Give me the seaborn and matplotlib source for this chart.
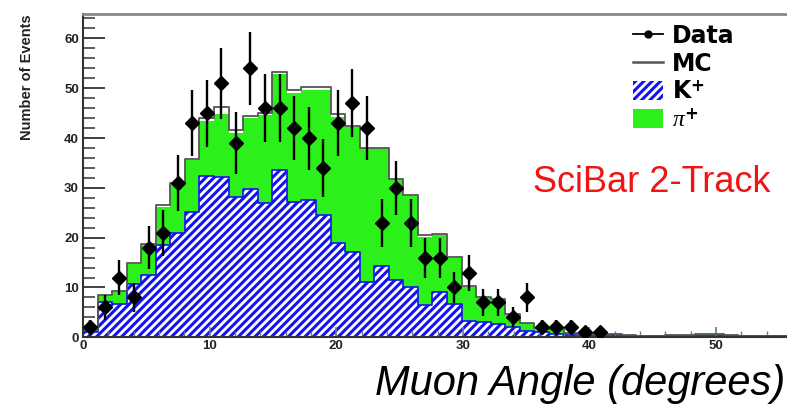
import numpy as np
import pandas as pd
import matplotlib
matplotlib.use("Agg")
import matplotlib.pyplot as plt
import seaborn as sns
from matplotlib.lines import Line2D
from matplotlib.patches import Patch

# --- data (bins of 1.15 degrees starting at 0) ---
bin_width = 1.15

kplus = [1.0, 7.0, 6.7, 10.7, 12.5, 18.5, 21.0, 25.2, 32.3, 32.2,
         28.2, 29.8, 27.0, 33.5, 27.2, 27.6, 24.6, 19.0, 17.2, 11.2,
         14.3, 11.6, 10.1, 6.5, 9.0, 6.7, 3.3, 3.0, 2.6, 2.1,
         1.2, 1.0, 0.6, 0.5, 0.4, 0.3, 0.4, 0.3, 0.3, 0.3,
         0.3, 0.2, 0.3, 0.3, 0.2, 0.2, 0.3, 0.2, 0.2]

piplus = [0.5, 1.3, 2.4, 4.1, 6.1, 7.7, 9.8, 10.3, 11.2, 12.7,
          12.8, 14.2, 17.6, 19.3, 21.8, 22.0, 25.0, 25.3, 25.0, 26.7,
          23.6, 19.9, 18.2, 13.7, 11.5, 9.3, 6.7, 4.8, 4.9, 2.4,
          1.6, 0.8, 0.9, 0.3, 0.2, 0.2, 0.2, 0.1, 0.0, 0.0,
          0.1, 0.2, 0.3, 0.3, 0.2, 0.0, 0.0, 0.1, 0.1]

mc_total = [1.5, 8.4, 9.2, 15.0, 18.8, 26.5, 31.0, 35.8, 44.0, 46.2,
            41.7, 44.4, 45.0, 53.2, 49.7, 50.3, 50.2, 44.8, 42.5, 38.1,
            38.1, 31.7, 28.5, 20.6, 20.8, 16.2, 10.2, 8.0, 7.6, 4.6,
            2.9, 1.9, 1.6, 0.9, 0.7, 0.5, 0.6, 0.4, 0.3, 0.3,
            0.4, 0.4, 0.6, 0.6, 0.4, 0.2, 0.3, 0.3, 0.3]

data_counts = [2, 6, 12, 8, 18, 21, 31, 43, 45, 51,
               39, 54, 46, 46, 42, 40, 34, 43, 47, 42,
               23, 30, 23, 16, 16, 10, 13, 7, 7, 4,
               8, 2, 2, 2, 1, 1]

y_ticks = [0, 10, 20, 30, 40, 50, 60]
x_ticks = [0, 10, 20, 30, 40, 50]

# --- derived tables ---
n_bins = len(kplus)
edges = [i * bin_width for i in range(n_bins + 1)]
centers = [e + bin_width / 2 for e in edges[:-1]]
hist_df = pd.DataFrame({
    "angle": centers,
    "kplus": kplus,
    "stack": np.array(kplus) + np.array(piplus),
    "mc": mc_total,
})
data_df = pd.DataFrame({"angle": centers[:len(data_counts)], "count": data_counts})
data_df["err"] = np.sqrt(data_df["count"])

plt.rcParams["font.family"] = ["Liberation Sans", "DejaVu Sans"]
plt.rcParams["mathtext.fontset"] = "custom"
plt.rcParams["mathtext.rm"] = "DejaVu Sans:bold"
plt.rcParams["mathtext.bf"] = "DejaVu Sans:bold"
plt.rcParams["mathtext.it"] = "Liberation Serif:italic"
plt.rcParams["hatch.linewidth"] = 2.2

green = "#2cf01a"
blue = "#1414ee"

fig = plt.figure(figsize=(7.87, 4.07), dpi=100)
ax = fig.add_axes([83 / 787, 69.7 / 407, 704 / 787, 323.8 / 407])

# pi+ stacked on K+ (green)
sns.histplot(data=hist_df, x="angle", weights="stack", bins=edges, element="step",
             fill=True, color=green, alpha=1, linewidth=0, ax=ax)
# MC total outline
sns.histplot(data=hist_df, x="angle", weights="mc", bins=edges, element="step",
             fill=False, color="#555555", linewidth=1.3, ax=ax)
# K+ hatched
sns.histplot(data=hist_df, x="angle", weights="kplus", bins=edges, element="step",
             fill=True, color=blue, alpha=1, linewidth=1.2, ax=ax)
k_poly = ax.collections[-1]
k_poly.set_facecolor("white")
k_poly.set_edgecolor(blue)
k_poly.set_hatch("////")

# data with sqrt(N) errors
ax.errorbar(data_df["angle"], data_df["count"], yerr=data_df["err"], fmt="D",
            color="black", ms=7, elinewidth=1.7, capsize=0, zorder=5)

ax.set_xlim(0, 55.6)
ax.set_ylim(0, 65)
ax.set_xticks(x_ticks)
ax.set_yticks(y_ticks)
ax.set_xticks(np.arange(0, 56, 2), minor=True)
ax.set_yticks(np.arange(0, 66, 2), minor=True)
ax.tick_params(axis="y", which="major", direction="in", length=16, width=1.3,
               labelsize=9.5, pad=3, color="#333333")
ax.tick_params(axis="y", which="minor", direction="in", length=8.5, width=1.1,
               color="#333333")
ax.tick_params(axis="x", which="major", direction="in", length=7, width=1.2,
               labelsize=9.5, pad=2, color="#777777")
ax.tick_params(axis="x", which="minor", direction="in", length=4, width=1.0,
               color="#777777")
for lab in ax.get_xticklabels() + ax.get_yticklabels():
    lab.set_fontweight("bold")
    lab.set_color("#222222")

ax.spines["right"].set_visible(False)
ax.spines["top"].set_color("#888888")
ax.spines["top"].set_linewidth(2)
ax.spines["left"].set_color("#333333")
ax.spines["left"].set_linewidth(1.5)
ax.spines["bottom"].set_color("#333333")
ax.spines["bottom"].set_linewidth(1.5)

ax.set_xlabel("")
ax.set_ylabel("Number of Events", fontsize=10.5, fontweight="bold", color="#222222")
ax.yaxis.set_label_coords(-0.069, 0.804)

handles = [
    Line2D([], [], color="black", marker="o", ms=5, lw=1.3),
    Line2D([], [], color="#555555", lw=1.8),
    Patch(facecolor="white", edgecolor=blue, hatch="////", linewidth=0),
    Patch(facecolor=green, edgecolor="none"),
]
labels = ["Data", "MC", r"K$^{+}$", r"$\pi^{+}$"]
leg = ax.legend(handles, labels, loc="upper left", bbox_to_anchor=(616 / 787, 1 - 7 / 407),
                bbox_transform=fig.transFigure, frameon=False,
                labelspacing=0.17, handlelength=1.3, handleheight=0.85,
                handletextpad=0.38, borderpad=0.2,
                prop={"family": "DejaVu Sans", "weight": "bold", "size": 17})

fig.text(652 / 787, 1 - 182 / 407, "SciBar 2-Track", color="#f01414",
         fontsize=26, ha="center", va="center")
fig.text(375 / 787, 1 - 395 / 407, "Muon Angle (degrees)", fontsize=30,
         style="italic", ha="left", va="baseline", color="black")

fig.savefig("out.png", dpi=100)
